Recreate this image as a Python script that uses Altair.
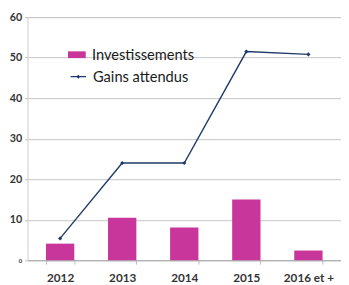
import altair as alt
import pandas as pd

years = ["2012", "2013", "2014", "2015", "2016 et +"]
invest = [4.1, 10.5, 8.1, 15.0, 2.4]
gains = [5.4, 24.0, 24.0, 51.5, 50.8]

df = pd.DataFrame({
    "year": years,
    "invest": invest,
    "gains": gains,
    "s1": ["Investissements"] * len(years),
    "s2": ["Gains attendus"] * len(years),
})

FONT = "Lato"
MAG = "#C8359B"
BLUE = "#203A6A"

x = alt.X("year:N", sort=years, title=None,
          scale=alt.Scale(paddingInner=0.55, paddingOuter=0.3),
          axis=alt.Axis(labelAngle=0, labelFontWeight="bold", labelFontSize=12,
                        labelColor="#333333", labelPadding=9, tickBand="extent",
                        tickSize=4, tickColor="#bbbbbb", domainColor="#aaaaaa",
                        grid=False, labelFont=FONT))

yscale = alt.Scale(domain=[0, 60], nice=False)
yaxis = alt.Axis(values=[0, 10, 20, 30, 40, 50, 60], title=None,
                 labelFontWeight="bold", labelColor="#333333",
                 labelFontSize={"condition": {"test": "datum.value == 0", "value": 6}, "value": 11},
                 labelFont=FONT, gridColor="#c4c4c4", domainColor="#dddddd",
                 tickColor="#bbbbbb", tickSize=3, labelPadding=3)

bars = alt.Chart(df).mark_bar(size=29).encode(
    x=x,
    y=alt.Y("invest:Q", scale=yscale, axis=yaxis),
    fill=alt.Fill("s1:N", scale=alt.Scale(domain=["Investissements"], range=[MAG]),
                  legend=alt.Legend(title=None, orient="none", legendX=41, legendY=29,
                                    symbolType="M-1,-0.38H1V0.38H-1Z", symbolSize=330,
                                    symbolStrokeWidth=0, labelFontSize=15, labelColor="#1a1a1a",
                                    labelFont=FONT, labelOffset=6)),
)

line = alt.Chart(df).mark_line(strokeWidth=1.4).encode(
    x=x,
    y=alt.Y("gains:Q", scale=yscale),
    stroke=alt.Stroke("s2:N", scale=alt.Scale(domain=["Gains attendus"], range=[BLUE]),
                      legend=alt.Legend(title=None, orient="none", legendX=43, legendY=52,
                                        symbolType="M-1,0L1,0M-0.14,0L0,-0.14L0.14,0L0,0.14Z",
                                        symbolSize=250, symbolStrokeWidth=1.3,
                                        symbolFillColor=BLUE, labelFontSize=15,
                                        labelColor="#1a1a1a", labelFont=FONT, labelOffset=6)),
)

pts = alt.Chart(df).mark_point(filled=True, size=18, shape="diamond", color=BLUE, opacity=1).encode(
    x=x,
    y=alt.Y("gains:Q", scale=yscale),
)

chart = alt.layer(bars, line, pts).resolve_scale(x="shared").properties(
    width=321, height=249,
    autosize=alt.AutoSizeParams(type="none"),
    padding={"left": 20, "top": 6, "right": 0, "bottom": 22},
).configure_view(stroke=None).configure(background="white")

chart.save("out.html", embed_options={"renderer": "svg", "actions": False})
